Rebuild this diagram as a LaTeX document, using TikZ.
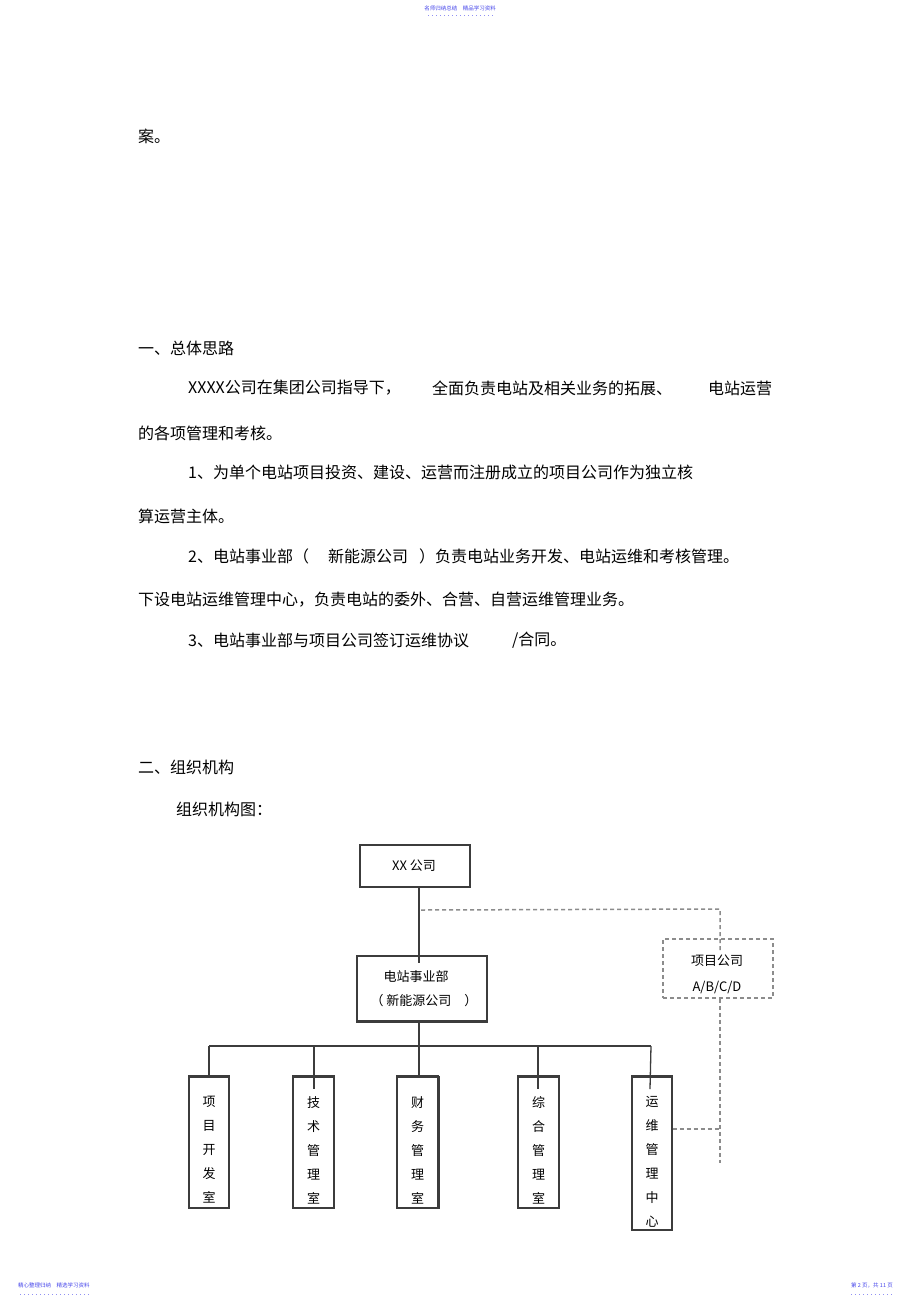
\documentclass[tikz,border=0pt]{standalone}
\usepackage{fontspec}
\setmainfont{Noto Sans CJK SC}
\newfontfamily\cjk{Noto Sans CJK SC}
\definecolor{hdr}{RGB}{70,70,235}
\definecolor{lin}{RGB}{60,60,60}
\definecolor{dsh}{RGB}{140,140,140}
\begin{document}
\begin{tikzpicture}[x=1pt,y=-1pt,
  body/.style={anchor=west,inner sep=0pt,font=\cjk\fontsize{16}{16}\selectfont},
  small/.style={inner sep=0pt,text=hdr,font=\cjk\fontsize{5.5}{6}\selectfont},
  dots/.style={hdr!60,line width=0.8pt,dash pattern=on 0.8pt off 3.2pt},
  box/.style={draw=lin,line width=1.3pt,inner sep=0pt},
  dbox/.style={draw=dsh,line width=1.5pt,dash pattern=on 4pt off 3pt,inner sep=0pt},
  conn/.style={draw=lin,line width=1.3pt},
  dconn/.style={draw=dsh,line width=1.5pt,dash pattern=on 4pt off 3pt},
  lbl/.style={inner sep=0pt,font=\cjk\fontsize{13}{13}\selectfont},
  vtext/.style={inner sep=0pt,align=center,font=\cjk\fontsize{13}{24}\selectfont}]
\useasboundingbox[fill=white] (0,0) rectangle (920,1302);

% header / footer
\node[small] (hd) at (460,8) {名师归纳总结\quad 精品学习资料};
\draw[dots] (428,15) -- (494,15);
\node[small,anchor=west] (fl) at (18,1285) {精心整理归纳\quad 精选学习资料};
\draw[dots] (20,1294) -- (90,1294);
\node[small,anchor=west] (fr) at (851,1285) {第 2 页，共 11 页};
\draw[dots] (851,1294) -- (893,1294);

% body text
\node[body] (p0) at (138,136) {案。};
\node[body] (h1) at (138,348) {一、总体思路};
\node[body] (l1a) at (188,388) {XXXX公司在集团公司指导下，};
\node[body] (l1b) at (432,388) {全面负责电站及相关业务的拓展、};
\node[body] (l1c) at (708,388) {电站运营};
\node[body] (l2) at (138,433) {的各项管理和考核。};
\node[body] (l3) at (188,472) {1、为单个电站项目投资、建设、运营而注册成立的项目公司作为独立核};
\node[body] (l4) at (138,516) {算运营主体。};
\node[body] (l5a) at (188,556) {2、电站事业部（};
\node[body] (l5b) at (328,556) {新能源公司};
\node[body] (l5c) at (419,556) {）负责电站业务开发、电站运维和考核管理。};
\node[body] (l6) at (138,600) {下设电站运维管理中心，负责电站的委外、合营、自营运维管理业务。};
\node[body] (l7a) at (188,640) {3、电站事业部与项目公司签订运维协议};
\node[body] (l7b) at (512,640) {/合同。};
\node[body] (h2) at (138,767) {二、组织机构};
\node[body] (h3) at (176,809) {组织机构图：};

% diagram boxes
\node[box,minimum width=110pt,minimum height=42pt] (xx) at (415,866) {};
\node[lbl] (xxt) at (414,866) {XX 公司};
\node[box,minimum width=130pt,minimum height=65pt] (dz) at (422,988.5) {};
\node[lbl] (dzt1) at (416,977) {电站事业部};
\node[lbl] (dzt2) at (424,1001) {（ 新能源公司　）};
\draw[lin,line width=2.2pt] (dz.south west) -- (dz.south east);
\node[dbox,minimum width=110pt,minimum height=59pt] (xm) at (718,968.5) {};
\node[lbl] (xmt1) at (717,961) {项目公司};
\node[lbl] (xmt2) at (717,987) {A/B/C/D};

\node[box,minimum width=40pt,minimum height=131pt] (b1) at (209,1142.5) {};
\node[box,minimum width=41pt,minimum height=131pt] (b2) at (313.5,1142.5) {};
\node[box,minimum width=41pt,minimum height=131pt] (b3) at (417.5,1142.5) {};
\node[box,minimum width=41pt,minimum height=131pt] (b4) at (538.5,1142.5) {};
\node[box,minimum width=40pt,minimum height=153pt] (b5) at (652,1153.5) {};
\foreach \b in {b1,b2,b3,b4,b5}{\draw[lin,line width=2.2pt] (\b.north west) -- (\b.north east);}
\draw[lin,line width=2.2pt] (b3.north east) -- (b3.south east);
\node[vtext] (t1) at (209,1150) {项\\目\\开\\发\\室};
\node[vtext] (t2) at (313.5,1150) {技\\术\\管\\理\\室};
\node[vtext] (t3) at (417.5,1150) {财\\务\\管\\理\\室};
\node[vtext] (t4) at (538.5,1150) {综\\合\\管\\理\\室};
\node[vtext] (t5) at (652,1162) {运\\维\\管\\理\\中\\心};

% connectors
\coordinate (top) at (419,887);
\coordinate (tap) at (421,910);
\coordinate (dzin) at (419,963);
\coordinate (dzout) at (419,1021);
\coordinate (busL) at (209,1046);
\coordinate (busR) at (651,1046);
\coordinate (busM) at (419,1046);
\coordinate (dj) at (720,909);
\coordinate (dend) at (720,1163);
\coordinate (dmid) at (720,1129);
\draw[conn] (top) -- (dzin);
\draw[conn] (dzout) -- (busM);
\draw[conn] (busL) -- (busR);
\draw[conn] (busL) -- (b1.north);
\draw[conn] (314,1046) -- (314,1089);
\draw[conn] (busM) -- (419,1076);
\draw[conn] (538,1046) -- (538,1089);
\draw[conn] (busR) -- (650,1089);
\draw[dconn] (tap) -- (dj) -- (720,950);
\draw[dconn] (xm.south -| dj) -- (dend);
\draw[dconn] (b5.east |- dmid) -- (dmid);
\end{tikzpicture}
\end{document}
